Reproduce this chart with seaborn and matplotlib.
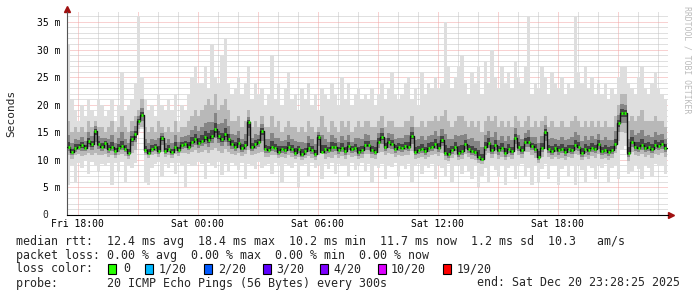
import numpy as np
import pandas as pd
import matplotlib
matplotlib.use("Agg")
import matplotlib.pyplot as plt
import matplotlib.dates as mdates
import matplotlib.transforms as mtransforms
from matplotlib.ticker import MultipleLocator, FuncFormatter
from matplotlib.patches import Rectangle
import seaborn as sns

# ---------------- data (ms), one value per 10 minutes ----------------
start_time = "2025-12-19 17:28:25"
step = "10min"

median_ms = [
    12.3, 11.4, 12.1, 12.4, 12.6, 12.2, 13.4, 12.8, 15.3, 12.9,
    12.4, 13.1, 12.0, 12.3, 11.6, 12.2, 12.5, 12.0, 11.3, 13.8,
    14.6, 17.0, 18.2, 11.8, 11.3, 12.0, 12.3, 11.6, 14.0, 11.6,
    12.0, 11.4, 12.3, 11.8, 12.6, 12.9, 12.4, 13.3, 13.8, 13.0,
    13.5, 14.1, 13.6, 14.3, 15.6, 14.4, 13.8, 14.6, 13.7, 12.8,
    12.4, 13.0, 12.1, 12.7, 16.8, 12.3, 12.8, 13.2, 15.3, 12.0,
    11.8, 12.4, 12.2, 11.5, 12.0, 11.7, 12.3, 11.9, 11.3, 11.9,
    11.0, 11.6, 12.1, 11.8, 11.1, 14.2, 11.5, 12.0, 11.8, 12.3,
    12.3, 11.8, 12.2, 11.6, 12.5, 11.9, 12.2, 11.4, 11.8, 12.7,
    12.6, 11.7, 11.5, 13.2, 14.1, 12.3, 13.2, 12.9, 12.0, 12.4,
    12.2, 12.5, 12.3, 14.3, 11.5, 11.8, 12.0, 11.6, 12.1, 12.4,
    12.9, 12.2, 13.6, 11.3, 11.0, 11.8, 12.4, 11.2, 11.6, 12.8,
    12.0, 11.6, 11.4, 10.6, 10.2, 12.4, 13.0, 11.8, 12.6, 11.7,
    12.2, 11.3, 12.0, 11.6, 14.0, 12.3, 11.8, 13.2, 13.3, 12.5,
    11.9, 10.6, 12.2, 15.0, 12.0, 11.6, 12.1, 11.7, 11.9, 11.5,
    12.0, 11.8, 12.7, 12.4, 11.3, 12.0, 11.7, 12.2, 11.9, 12.8,
    11.6, 11.8, 11.5, 11.7, 12.9, 16.6, 18.5, 18.4, 11.2, 13.3,
    12.3, 12.2, 12.6, 12.1, 12.3, 11.9, 12.7, 12.5, 12.9, 12.1,
]

max_ms = [
    31, 21, 19, 17, 20, 18, 21, 19, 18, 21,
    20, 18, 19, 21, 17, 20, 26, 19, 20, 21,
    24, 36, 25, 21, 19, 20, 18, 22, 20, 19,
    21, 19, 22, 17, 20, 19, 22, 25, 27, 24,
    24, 27, 23, 31, 25, 24, 29, 32, 24, 22,
    23, 25, 22, 24, 27, 21, 24, 22, 23, 20,
    22, 29, 21, 24, 20, 23, 26, 21, 22, 19,
    23, 21, 24, 20, 22, 19, 23, 22, 21, 24,
    22, 20, 25, 21, 24, 20, 22, 23, 21, 22,
    21, 23, 20, 22, 24, 21, 23, 26, 22, 21,
    22, 24, 25, 21, 23, 20, 26, 22, 24, 23,
    25, 23, 24, 35, 27, 23, 25, 27, 29, 24,
    22, 26, 24, 27, 22, 28, 24, 30, 25, 23,
    27, 24, 26, 23, 28, 25, 24, 27, 36, 22,
    24, 23, 27, 25, 22, 26, 24, 23, 25, 22,
    24, 23, 36, 26, 24, 27, 23, 25, 22, 24,
    22, 24, 21, 23, 22, 25, 27, 27, 24, 23,
    22, 25, 27, 23, 22, 24, 26, 23, 22, 21,
]

high_ms = [
    17, 15, 16, 15, 16, 15, 17, 16, 17, 16,
    16, 15, 16, 17, 15, 16, 18, 16, 15, 17,
    18, 19, 21, 16, 15, 16, 15, 17, 16, 15,
    16, 15, 17, 15, 16, 16, 17, 18, 19, 18,
    19, 20, 21, 20, 22, 19, 20, 21, 19, 17,
    17, 18, 16, 17, 19, 16, 17, 16, 18, 16,
    16, 18, 16, 17, 15, 16, 17, 16, 16, 15,
    16, 15, 17, 16, 15, 16, 18, 16, 15, 17,
    16, 15, 17, 16, 17, 15, 16, 17, 16, 17,
    17, 16, 16, 17, 18, 16, 17, 17, 16, 16,
    16, 17, 17, 18, 16, 16, 17, 16, 17, 17,
    18, 17, 18, 19, 17, 16, 17, 18, 18, 17,
    16, 17, 16, 17, 15, 17, 18, 17, 18, 16,
    17, 16, 17, 16, 18, 17, 16, 17, 18, 16,
    17, 16, 17, 18, 16, 17, 16, 16, 17, 16,
    16, 17, 18, 17, 16, 17, 16, 17, 16, 17,
    16, 17, 16, 16, 18, 20, 22, 22, 17, 18,
    17, 18, 19, 17, 17, 17, 18, 17, 17, 16,
]

low_ms = [
    10.8, 10.2, 10.9, 11.0, 10.7, 10.9, 11.2, 10.8, 11.3, 10.9,
    10.8, 11.0, 10.6, 10.9, 10.3, 10.8, 11.0, 10.7, 10.2, 11.2,
    11.8, 15.5, 16.0, 10.8, 10.4, 10.9, 11.0, 10.6, 11.5, 10.5,
    10.8, 10.4, 11.0, 10.7, 11.2, 11.3, 11.0, 11.5, 11.7, 11.2,
    11.5, 11.8, 11.2, 11.7, 12.2, 11.6, 11.3, 11.9, 11.4, 11.0,
    10.9, 11.2, 10.7, 11.0, 11.8, 10.8, 11.1, 11.3, 11.5, 10.6,
    10.5, 10.9, 10.8, 10.3, 10.6, 10.4, 10.8, 10.5, 10.1, 10.5,
    9.9, 10.3, 10.7, 10.4, 9.9, 10.8, 11.2, 10.2, 10.6, 10.4,
    10.8, 10.4, 10.7, 10.2, 10.9, 10.5, 10.7, 10.1, 10.4, 11.0,
    11.0, 10.4, 10.2, 11.2, 11.5, 10.8, 11.2, 11.1, 10.6, 10.9,
    10.7, 10.9, 10.8, 11.6, 10.2, 10.4, 10.5, 10.2, 10.6, 10.8,
    11.0, 10.7, 11.3, 10.0, 9.8, 10.4, 10.8, 9.9, 10.2, 11.0,
    10.5, 10.2, 10.0, 9.5, 9.2, 10.8, 11.2, 10.3, 11.0, 10.2,
    10.6, 9.9, 10.5, 10.2, 11.8, 10.8, 10.3, 11.4, 11.5, 10.9,
    10.4, 9.5, 10.6, 12.0, 10.5, 10.1, 10.6, 10.2, 10.4, 10.0,
    10.5, 10.3, 11.0, 10.8, 9.9, 10.5, 10.2, 10.7, 10.4, 11.1,
    10.2, 10.4, 10.0, 10.3, 11.2, 13.5, 15.0, 14.8, 9.8, 11.5,
    10.8, 10.7, 11.0, 10.6, 10.8, 10.4, 11.1, 10.9, 11.2, 10.6,
]

min_ms = [
    5.5, 9.0, 6.0, 9.5, 8.5, 9.8, 7.5, 9.6, 9.0, 8.0,
    9.2, 8.8, 9.5, 5.5, 9.4, 8.0, 9.6, 6.0, 9.0, 8.5,
    9.5, 15.0, 15.5, 6.0, 5.5, 8.5, 9.3, 9.6, 7.0, 9.2,
    8.6, 9.5, 7.5, 9.4, 9.0, 5.0, 9.3, 8.8, 9.0, 9.6,
    9.2, 6.5, 9.4, 9.0, 8.5, 9.6, 7.2, 9.3, 8.0, 9.5,
    9.0, 8.2, 9.5, 6.5, 9.2, 9.0, 8.4, 9.6, 8.5, 9.0,
    9.3, 7.5, 9.5, 8.8, 6.0, 9.2, 9.0, 8.6, 9.4, 5.0,
    8.8, 9.2, 7.0, 9.4, 8.5, 9.0, 6.5, 9.2, 8.4, 9.5,
    7.5, 9.3, 8.8, 9.0, 7.0, 9.4, 8.2, 9.0, 9.5, 8.0,
    9.2, 5.8, 9.0, 8.5, 9.3, 6.5, 9.1, 8.7, 9.4, 7.0,
    9.0, 8.4, 9.3, 6.0, 8.8, 9.2, 7.5, 9.0, 8.6, 9.3,
    6.5, 9.0, 8.5, 7.0, 9.2, 6.0, 8.8, 9.1, 7.5, 9.0,
    8.0, 6.5, 9.0, 5.0, 7.0, 8.6, 6.0, 9.0, 8.2, 6.8,
    9.0, 5.5, 8.5, 9.1, 6.5, 8.8, 9.2, 7.0, 8.5, 5.5,
    9.0, 6.0, 8.3, 9.2, 6.5, 8.8, 9.0, 5.5, 8.4, 9.1,
    7.0, 8.8, 5.5, 9.0, 8.2, 6.0, 9.1, 8.5, 6.5, 9.0,
    8.6, 9.2, 6.0, 8.5, 9.0, 6.5, 12.0, 12.5, 7.5, 8.0,
    9.0, 8.4, 6.5, 9.1, 8.6, 7.0, 9.2, 8.8, 9.0, 7.5,
]

y_tick_values = [0, 5, 10, 15, 20, 25, 30, 35]
legend_lines = [
    "median rtt:  12.4 ms avg  18.4 ms max  10.2 ms min  11.7 ms now  1.2 ms sd  10.3   am/s",
    "packet loss: 0.00 % avg  0.00 % max  0.00 % min  0.00 % now",
]
loss_labels = ["0", "1/20", "2/20", "3/20", "4/20", "10/20", "19/20"]
loss_colors = ["#26ff00", "#00b8ff", "#0059ff", "#5e00ff", "#7e00ff", "#dd00ff", "#ff0000"]
probe_text = "probe:       20 ICMP Echo Pings (56 Bytes) every 300s"
end_text = "end: Sat Dec 20 23:28:25 2025"

# ---------------- figure ----------------
sns.set_theme(style="white")
plt.rcParams["font.family"] = ["DejaVu Sans Mono", "DejaVu Sans"]
FS = 8.4      # legend font
AFS = 7.0     # axis font

W, H = 697, 297
fig = plt.figure(figsize=(W / 100, H / 100), dpi=100)
fig.patch.set_facecolor("white")
ax = fig.add_axes([67 / W, 82 / H, 601 / W, 203 / H])
ax.set_facecolor("white")

n = len(median_ms)
edges = pd.date_range(start_time, periods=n + 1, freq=step)
starts = edges[:-1]

def ext(a):
    a = np.asarray(a, dtype=float)
    return np.append(a, a[-1])

med = np.asarray(median_ms, float)
lo = np.asarray(low_ms, float)
hi = np.asarray(high_ms, float)

ax.fill_between(edges, ext(min_ms), ext(max_ms), step="post", color="#dedede", lw=0, zorder=1)
ax.fill_between(edges, ext(lo), ext(hi), step="post", color="#b8b8b8", lw=0, zorder=1.1)
ax.fill_between(edges, ext(med - (med - lo) * 0.5), ext(med + (hi - med) * 0.45),
                step="post", color="#858585", lw=0, zorder=1.2)
ax.fill_between(edges, ext(med - (med - lo) * 0.2), ext(med + (hi - med) * 0.18),
                step="post", color="#454545", lw=0, zorder=1.3)

df = pd.DataFrame({"time": edges, "median": ext(med)})
sns.lineplot(data=df, x="time", y="median", drawstyle="steps-post", color="#111111",
             lw=1.0, estimator=None, ax=ax, zorder=3)
ax.hlines(med, starts + pd.Timedelta(minutes=2), starts + pd.Timedelta(minutes=8),
          color=loss_colors[0], lw=2.0, zorder=4)

# axes limits / ticks
ax.set_xlim(edges[0], edges[-1] + pd.Timedelta(minutes=3))
ax.set_ylim(0, 36.8)

ax.xaxis.set_major_locator(mdates.HourLocator(byhour=range(0, 24, 3)))
ax.xaxis.set_minor_locator(mdates.HourLocator())
def xfmt(v, pos):
    d = mdates.num2date(v)
    return d.strftime("%a %H:%M") if d.hour % 6 == 0 else ""
ax.xaxis.set_major_formatter(FuncFormatter(xfmt))
ax.set_yticks(y_tick_values)
ax.yaxis.set_minor_locator(MultipleLocator(1))
ax.yaxis.set_major_formatter(FuncFormatter(lambda v, p: "" if v == 0 else f"{v:.0f} m"))

ax.set_axisbelow(True)
ax.grid(which="minor", color="#c2c2c2", ls=(0, (1, 1)), lw=0.72)
ax.grid(which="major", color="#f2a4a4", ls=(0, (1, 1)), lw=0.72)

ax.tick_params(axis="both", which="both", labelsize=AFS, colors="black")
ax.tick_params(axis="y", which="major", length=2.9, width=0.7, pad=1.5, color="#555555")
ax.tick_params(axis="y", which="minor", length=0)
ax.tick_params(axis="x", which="both", length=0, pad=3)
ax.set_xlabel("")
ax.set_ylabel("")

# zero label of the y axis (sits left of the other labels, as in rrdtool)
ax.text(-19 / 601, y_tick_values[0], "0",
        transform=mtransforms.blended_transform_factory(ax.transAxes, ax.transData),
        ha="right", va="center", fontsize=AFS)

for s in ["top", "right"]:
    ax.spines[s].set_visible(False)
ax.spines["left"].set_color("#555555")
ax.spines["left"].set_linewidth(0.8)
ax.spines["bottom"].set_color("#000000")
ax.spines["bottom"].set_linewidth(0.8)

# arrows
ax.plot([0], [1 + 3 / 203], marker="^", ms=4, color="#a01010", transform=ax.transAxes, clip_on=False)
ax.plot([1 + 3 / 601], [0], marker=">", ms=4, color="#a01010", transform=ax.transAxes, clip_on=False)

# side texts
fig.text(11 / W, 1 - 113 / H, "Seconds", rotation=90, ha="center", va="center", fontsize=8.0)
fig.text(687 / W, 1 - 60 / H, "RRDTOOL / TOBI OETIKER", rotation=270, ha="center", va="center",
         fontsize=5.9, color="#bbbbbb")

# legend block
def fy(y):
    return 1 - y / H

fig.text(16 / W, fy(241), legend_lines[0], ha="left", va="center", fontsize=FS)
fig.text(16 / W, fy(255), legend_lines[1], ha="left", va="center", fontsize=FS)
fig.text(16 / W, fy(269), "loss color:", ha="left", va="center", fontsize=FS)
sq_x = [108, 145, 204, 263, 320, 378, 443]
tx_x = [123, 159, 218, 276, 333, 391, 457]
for sx, tx, lab, col in zip(sq_x, tx_x, loss_labels, loss_colors):
    fig.patches.append(Rectangle((sx / W, fy(274)), 8 / W, 10 / H, transform=fig.transFigure,
                                 facecolor=col, edgecolor="black", lw=0.8))
    fig.text(tx / W, fy(269), lab, ha="left", va="center", fontsize=FS)
fig.text(16 / W, fy(283), probe_text, ha="left", va="center", fontsize=FS)
fig.text(680 / W, fy(283), end_text, ha="right", va="center", fontsize=FS)

fig.savefig("out.png", dpi=100, facecolor="white")
